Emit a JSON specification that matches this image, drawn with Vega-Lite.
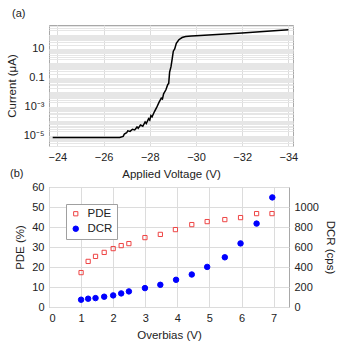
{
  "$schema": "https://vega.github.io/schema/vega-lite/v6.json",
  "padding": {"left": 5, "top": 7, "right": 2, "bottom": 2},
  "background": "white",
  "config": {
    "font": "Liberation Sans",
    "view": {"stroke": "#a8a8a8"},
    "axis": {"labelFontSize": 11, "titleFontSize": 11.5, "titleFontWeight": "normal", "labelColor": "#222", "titleColor": "#222", "domain": false, "ticks": false, "gridColor": "#dcdcdc", "labelOverlap": false},
    "title": {"fontSize": 11, "fontWeight": "normal", "color": "#222"},
    "legend": {"labelFontSize": 11.5, "labelColor": "#222", "strokeColor": "#a0a0a0", "fillColor": "white", "padding": 4, "rowPadding": 2, "symbolStrokeWidth": 1, "labelOffset": 6}
  },
  "spacing": -13,
  "resolve": {"legend": {"shape": "independent", "stroke": "independent", "fill": "independent", "size": "independent"}},
  "vconcat": [
    {
      "width": 244,
      "height": 121,
      "title": {"text": "(a)", "anchor": "start", "frame": "group", "dx": -37, "offset": 1},
      "data": {"values": [
        {"V": -23.8, "I": 7.5e-6}, {"V": -25, "I": 7.5e-6}, {"V": -26, "I": 7.5e-6}, {"V": -26.7, "I": 7.6e-6},
        {"V": -26.85, "I": 9e-6}, {"V": -26.9, "I": 1.3e-5}, {"V": -27.0, "I": 1.6e-5}, {"V": -27.05, "I": 2.2e-5},
        {"V": -27.15, "I": 2.0e-5}, {"V": -27.25, "I": 2.8e-5}, {"V": -27.35, "I": 2.5e-5}, {"V": -27.45, "I": 4.0e-5},
        {"V": -27.5, "I": 3.3e-5}, {"V": -27.6, "I": 5.5e-5}, {"V": -27.7, "I": 4.5e-5}, {"V": -27.8, "I": 9e-5},
        {"V": -27.85, "I": 7e-5}, {"V": -27.95, "I": 1.5e-4}, {"V": -28.0, "I": 1.2e-4}, {"V": -28.05, "I": 2.5e-4},
        {"V": -28.1, "I": 2.0e-4}, {"V": -28.2, "I": 4.5e-4}, {"V": -28.3, "I": 9e-4}, {"V": -28.4, "I": 2.0e-3},
        {"V": -28.5, "I": 4e-3}, {"V": -28.55, "I": 3.5e-3}, {"V": -28.6, "I": 8e-3}, {"V": -28.7, "I": 1.5e-2},
        {"V": -28.78, "I": 3.5e-2}, {"V": -28.82, "I": 4e-2}, {"V": -28.86, "I": 0.25}, {"V": -28.92, "I": 0.6},
        {"V": -28.97, "I": 2}, {"V": -29.02, "I": 7}, {"V": -29.08, "I": 10}, {"V": -29.15, "I": 25},
        {"V": -29.26, "I": 44}, {"V": -29.4, "I": 62}, {"V": -29.55, "I": 72}, {"V": -29.8, "I": 78},
        {"V": -30, "I": 82}, {"V": -32, "I": 130}, {"V": -34, "I": 215}
      ]},
      "mark": {"type": "line", "color": "black", "strokeWidth": 1.5, "clip": true},
      "encoding": {
        "x": {"field": "V", "type": "quantitative", "title": "Applied Voltage (V)",
              "scale": {"domain": [-23.64, -34.2], "nice": false, "zero": false},
              "axis": {"values": [-24, -26, -28, -30, -32, -34], "labelPadding": 5, "titlePadding": 6}},
        "y": {"field": "I", "type": "quantitative", "title": "Current (μA)",
              "scale": {"type": "log", "domain": [1.94e-6, 457], "nice": false},
              "axis": {
                "values": [2e-6,3e-6,4e-6,5e-6,6e-6,7e-6,8e-6,9e-6,
                           1e-5,2e-5,3e-5,4e-5,5e-5,6e-5,7e-5,8e-5,9e-5,
                           1e-4,2e-4,3e-4,4e-4,5e-4,6e-4,7e-4,8e-4,9e-4,
                           0.001,0.002,0.003,0.004,0.005,0.006,0.007,0.008,0.009,
                           0.01,0.02,0.03,0.04,0.05,0.06,0.07,0.08,0.09,
                           0.1,0.2,0.3,0.4,0.5,0.6,0.7,0.8,0.9,
                           1,2,3,4,5,6,7,8,9,10,20,30,40,50,60,70,80,90,100,200,300,400],
                "labelExpr": "abs(datum.value/10-1)<1e-6 ? '10' : abs(datum.value/0.1-1)<1e-6 ? '0.1' : abs(datum.value/0.001-1)<1e-6 ? '10⁻³' : abs(datum.value/0.00001-1)<1e-6 ? '10⁻⁵' : ''",
                "gridColor": "#e6e6e6", "labelPadding": 5, "titlePadding": 6}}
      }
    },
    {
      "width": 240,
      "height": 120,
      "title": {"text": "(b)", "anchor": "start", "frame": "group", "dx": -39, "offset": 2},
      "data": {"values": [
        {"ov": 1.0, "series": "PDE", "v": 17.2}, {"ov": 1.22, "series": "PDE", "v": 22.8},
        {"ov": 1.45, "series": "PDE", "v": 25.3}, {"ov": 1.72, "series": "PDE", "v": 27.3},
        {"ov": 2.0, "series": "PDE", "v": 29.2}, {"ov": 2.25, "series": "PDE", "v": 30.7},
        {"ov": 2.49, "series": "PDE", "v": 31.7}, {"ov": 2.99, "series": "PDE", "v": 34.7},
        {"ov": 3.47, "series": "PDE", "v": 36.3}, {"ov": 3.94, "series": "PDE", "v": 38.7},
        {"ov": 4.45, "series": "PDE", "v": 41.2}, {"ov": 4.93, "series": "PDE", "v": 42.7},
        {"ov": 5.48, "series": "PDE", "v": 43.7}, {"ov": 5.97, "series": "PDE", "v": 44.7},
        {"ov": 6.47, "series": "PDE", "v": 46.7}, {"ov": 6.95, "series": "PDE", "v": 46.7},
        {"ov": 1.0, "series": "DCR", "v": 73}, {"ov": 1.22, "series": "DCR", "v": 83},
        {"ov": 1.45, "series": "DCR", "v": 89}, {"ov": 1.72, "series": "DCR", "v": 103},
        {"ov": 2.0, "series": "DCR", "v": 116}, {"ov": 2.25, "series": "DCR", "v": 136},
        {"ov": 2.49, "series": "DCR", "v": 156}, {"ov": 2.99, "series": "DCR", "v": 189},
        {"ov": 3.47, "series": "DCR", "v": 222}, {"ov": 3.96, "series": "DCR", "v": 272},
        {"ov": 4.45, "series": "DCR", "v": 325}, {"ov": 4.93, "series": "DCR", "v": 401},
        {"ov": 5.48, "series": "DCR", "v": 497}, {"ov": 5.97, "series": "DCR", "v": 636},
        {"ov": 6.47, "series": "DCR", "v": 834}, {"ov": 6.96, "series": "DCR", "v": 1096}
      ]},
      "encoding": {
        "x": {"field": "ov", "type": "quantitative", "title": "Overbias (V)",
              "scale": {"domain": [0, 7.48], "nice": false},
              "axis": {"values": [0, 1, 2, 3, 4, 5, 6, 7], "labelPadding": 5, "titlePadding": 6}}
      },
      "layer": [
        {
          "transform": [{"filter": "datum.series === 'PDE'"}],
          "mark": {"type": "point", "strokeWidth": 1, "opacity": 1},
          "encoding": {
            "y": {"field": "v", "type": "quantitative", "title": "PDE (%)",
                  "scale": {"domain": [0, 60], "nice": false},
                  "axis": {"values": [0, 10, 20, 30, 40, 50, 60], "labelPadding": 5, "titlePadding": 6}},
            "shape": {"field": "series", "type": "nominal", "title": null,
                      "scale": {"domain": ["PDE", "DCR"], "range": ["square", "circle"]},
                      "legend": {"orient": "top-left", "offset": 17}},
            "stroke": {"field": "series", "type": "nominal", "title": null,
                       "scale": {"domain": ["PDE", "DCR"], "range": ["#ee4444", "#0000ff"]}},
            "fill": {"field": "series", "type": "nominal", "title": null,
                     "scale": {"domain": ["PDE", "DCR"], "range": ["transparent", "#0000ff"]}},
            "size": {"field": "series", "type": "nominal", "title": null,
                     "scale": {"domain": ["PDE", "DCR"], "range": [18, 30]}}
          }
        },
        {
          "transform": [{"filter": "datum.series === 'DCR'"}],
          "mark": {"type": "point", "strokeWidth": 1, "opacity": 1},
          "encoding": {
            "y": {"field": "v", "type": "quantitative", "title": "DCR (cps)",
                  "scale": {"domain": [0, 1200], "nice": false},
                  "axis": {"orient": "right", "values": [0, 200, 400, 600, 800, 1000], "format": "d", "grid": false, "labelPadding": 5, "titlePadding": 6}},
            "shape": {"field": "series", "type": "nominal", "title": null},
            "stroke": {"field": "series", "type": "nominal", "title": null},
            "fill": {"field": "series", "type": "nominal", "title": null},
            "size": {"field": "series", "type": "nominal", "title": null}
          }
        }
      ],
      "resolve": {"scale": {"y": "independent"}}
    }
  ]
}
